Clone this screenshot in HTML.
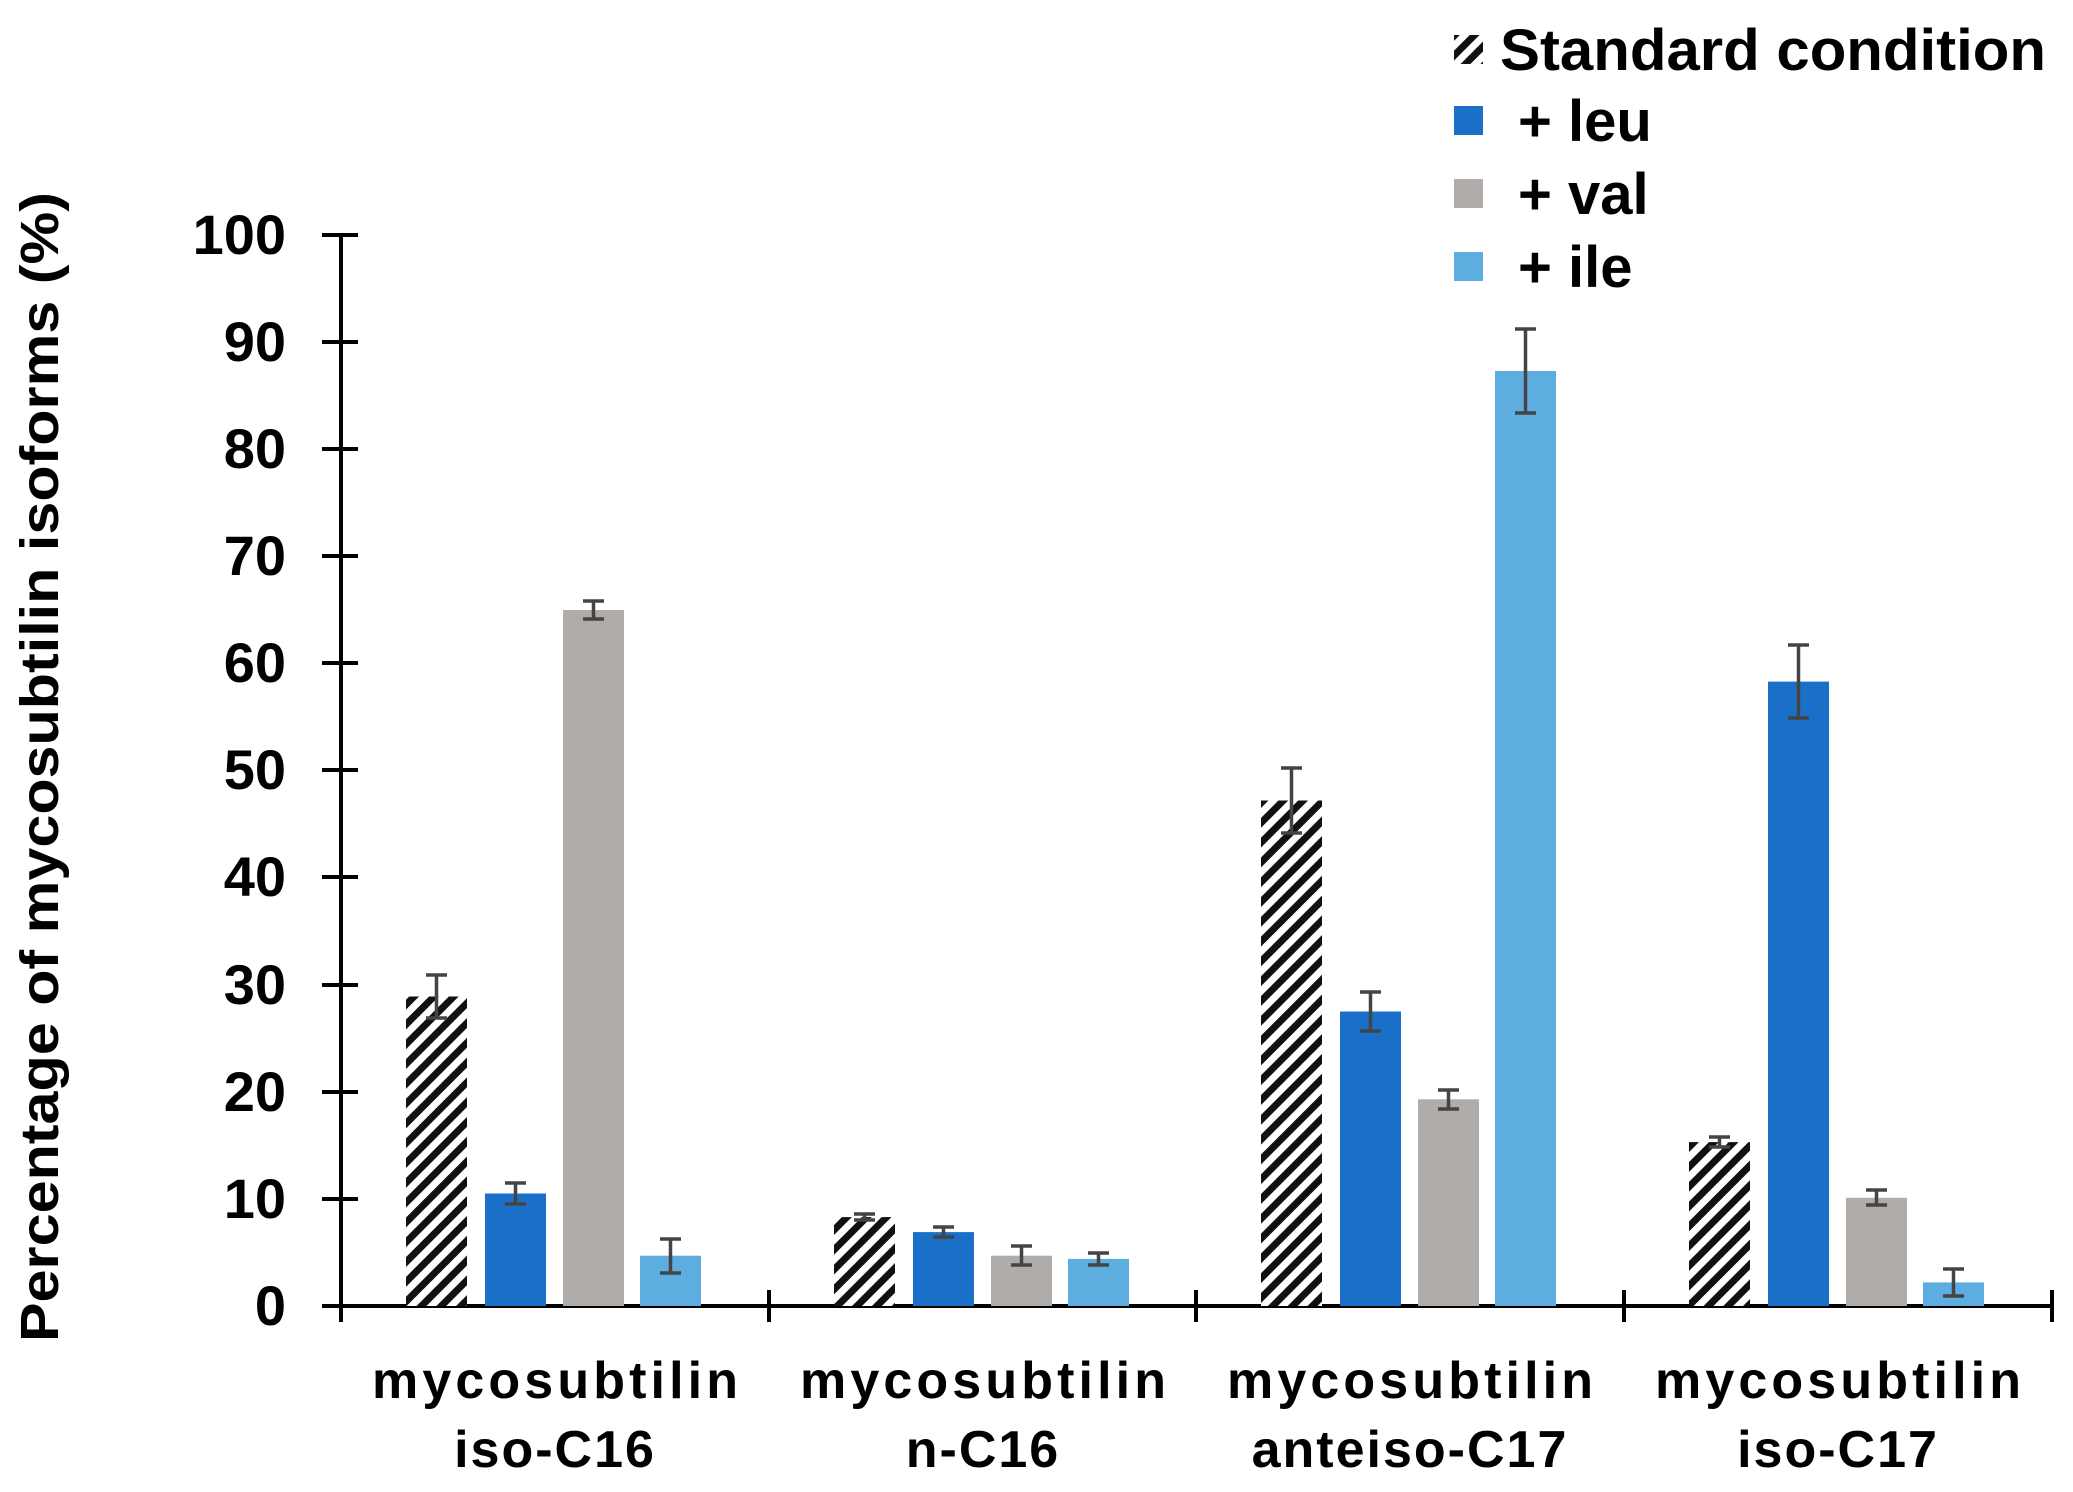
<!DOCTYPE html>
<html><head><meta charset="utf-8"><style>html,body{margin:0;padding:0;background:#fff}svg{display:block}</style></head>
<body>
<svg width="2073" height="1492" viewBox="0 0 2073 1492" xmlns="http://www.w3.org/2000/svg">
<defs>
<pattern id="h" width="14" height="14" patternUnits="userSpaceOnUse" patternTransform="rotate(45)">
<rect width="14" height="14" fill="#fff"/><rect width="7" height="14" fill="#111"/>
</pattern>
</defs>
<g font-family="'Liberation Sans Narrow','Liberation Sans',sans-serif" font-weight="bold" fill="#000">
<text x="0" y="0" transform="translate(58,767) rotate(-90)" text-anchor="middle" font-size="54" textLength="1150" lengthAdjust="spacingAndGlyphs">Percentage of mycosubtilin isoforms (%)</text>
<rect x="1454" y="35" width="29" height="29" fill="url(#h)"/>
<rect x="1454" y="106" width="29" height="29" fill="#1a70c8"/>
<rect x="1454" y="179" width="29" height="29" fill="#b0aca9"/>
<rect x="1454" y="252" width="29" height="29" fill="#5dade0"/>
<g font-size="58">
<text x="1500" y="70" textLength="546" lengthAdjust="spacingAndGlyphs">Standard condition</text>
<text x="1518" y="141">+ leu</text>
<text x="1518" y="214">+ val</text>
<text x="1518" y="287">+ ile</text>
</g>
</g>
<g font-family="'Liberation Sans',sans-serif" font-weight="bold" font-size="56" text-anchor="end">
<text x="286" y="254">100</text><text x="286" y="361">90</text><text x="286" y="468">80</text>
<text x="286" y="575">70</text><text x="286" y="682">60</text><text x="286" y="789">50</text>
<text x="286" y="896">40</text><text x="286" y="1004">30</text><text x="286" y="1111">20</text>
<text x="286" y="1218">10</text><text x="286" y="1325">0</text>
</g>
<g stroke="#000" stroke-width="4">
<line x1="341" y1="233" x2="341" y2="1322"/>
<line x1="322" y1="1306" x2="2054" y2="1306"/>
<line x1="322" y1="235" x2="358" y2="235"/><line x1="322" y1="342" x2="358" y2="342"/>
<line x1="322" y1="449" x2="358" y2="449"/><line x1="322" y1="556" x2="358" y2="556"/>
<line x1="322" y1="663" x2="358" y2="663"/><line x1="322" y1="770" x2="358" y2="770"/>
<line x1="322" y1="877" x2="358" y2="877"/><line x1="322" y1="985" x2="358" y2="985"/>
<line x1="322" y1="1092" x2="358" y2="1092"/><line x1="322" y1="1199" x2="358" y2="1199"/>
<line x1="769" y1="1290" x2="769" y2="1322"/>
<line x1="1196" y1="1290" x2="1196" y2="1322"/><line x1="1624" y1="1290" x2="1624" y2="1322"/>
<line x1="2052" y1="1290" x2="2052" y2="1322"/>
</g>
<rect x="406" y="996.5" width="61" height="309.5" fill="url(#h)"/>
<rect x="485" y="1193.5" width="61" height="112.5" fill="#1a70c8"/>
<rect x="563" y="610" width="61" height="696" fill="#b0aca9"/>
<rect x="640" y="1255.7" width="61" height="50.3" fill="#5dade0"/>
<rect x="834" y="1217.1" width="61" height="88.9" fill="url(#h)"/>
<rect x="913" y="1232.1" width="61" height="73.9" fill="#1a70c8"/>
<rect x="991" y="1255.7" width="61" height="50.3" fill="#b0aca9"/>
<rect x="1068" y="1258.9" width="61" height="47.1" fill="#5dade0"/>
<rect x="1261" y="800.5" width="61" height="505.5" fill="url(#h)"/>
<rect x="1340" y="1011.5" width="61" height="294.5" fill="#1a70c8"/>
<rect x="1418" y="1099.3" width="61" height="206.7" fill="#b0aca9"/>
<rect x="1495" y="371" width="61" height="935" fill="#5dade0"/>
<rect x="1689" y="1142.1" width="61" height="163.9" fill="url(#h)"/>
<rect x="1768" y="681.6" width="61" height="624.4" fill="#1a70c8"/>
<rect x="1846" y="1197.8" width="61" height="108.2" fill="#b0aca9"/>
<rect x="1923" y="1282.4" width="61" height="23.6" fill="#5dade0"/>
<g stroke="#444" stroke-width="3.5" fill="none">
<path d="M436.5 975V1018M426 975H447M426 1018H447"/>
<path d="M515.5 1183V1204M505 1183H526M505 1204H526"/>
<path d="M593.5 601V619M583 601H604M583 619H604"/>
<path d="M670.5 1239V1273M660 1239H681M660 1273H681"/>
<path d="M864.5 1214V1220M854 1214H875M854 1220H875"/>
<path d="M943.5 1227V1237M933 1227H954M933 1237H954"/>
<path d="M1021.5 1246V1265M1011 1246H1032M1011 1265H1032"/>
<path d="M1098.5 1253V1265M1088 1253H1109M1088 1265H1109"/>
<path d="M1291.5 768V833M1281 768H1302M1281 833H1302"/>
<path d="M1370.5 992V1031M1360 992H1381M1360 1031H1381"/>
<path d="M1448.5 1090V1109M1438 1090H1459M1438 1109H1459"/>
<path d="M1525.5 329V413M1515 329H1536M1515 413H1536"/>
<path d="M1719.5 1137V1147M1709 1137H1730M1709 1147H1730"/>
<path d="M1798.5 645V718M1788 645H1809M1788 718H1809"/>
<path d="M1876.5 1190V1205M1866 1190H1887M1866 1205H1887"/>
<path d="M1953.5 1269V1296M1943 1269H1964M1943 1296H1964"/>
</g>
<g font-family="'Liberation Sans',sans-serif" font-weight="bold" font-size="52" text-anchor="middle" fill="#000">
<text x="555" y="1398" textLength="366" lengthAdjust="spacing">mycosubtilin</text>
<text x="555" y="1467" letter-spacing="2">iso-C16</text>
<text x="983" y="1398" textLength="366" lengthAdjust="spacing">mycosubtilin</text>
<text x="983" y="1467" letter-spacing="2">n-C16</text>
<text x="1410" y="1398" textLength="366" lengthAdjust="spacing">mycosubtilin</text>
<text x="1410" y="1467" letter-spacing="2">anteiso-C17</text>
<text x="1838" y="1398" textLength="366" lengthAdjust="spacing">mycosubtilin</text>
<text x="1838" y="1467" letter-spacing="2">iso-C17</text>
</g>
</svg>
</body></html>
